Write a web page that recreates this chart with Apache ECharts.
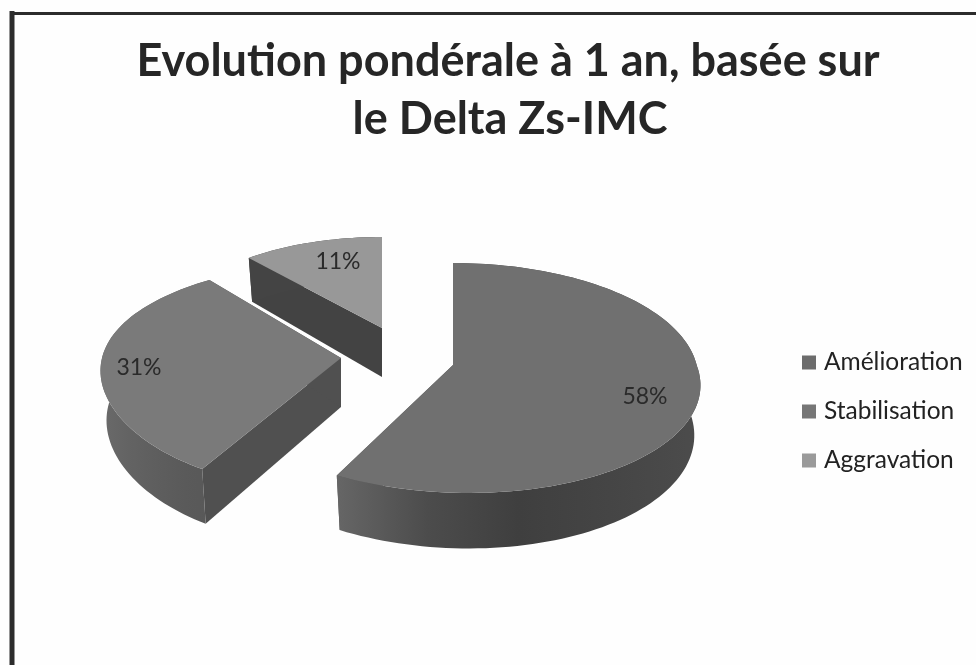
<!DOCTYPE html>
<html><head><meta charset="utf-8">
<style>html,body{margin:0;padding:0;background:#fefefe}#c{width:976px;height:665px}</style>
<script src="https://cdn.jsdelivr.net/npm/echarts@6/dist/echarts.min.js"></script>
</head><body><div id="c"></div>
<script>
const titleLines = ['Evolution pondérale à 1 an, basée sur', 'le Delta Zs-IMC'];
const categories = ['Amélioration', 'Stabilisation', 'Aggravation'];
const percentages = [58, 31, 11];

const topColors = ['#707070', '#7a7a7a', '#989898'];
const legendColors = ['#6c6c6c', '#767676', '#9a9a9a'];
const titleCenters = [503, 505];
const views = [
  {ax:453, ay:365, R:243.6, k:113.5, p:.113, px:.113, sh:0, shF:-16, lx:192, ly:32,
   wall:['#666666','#4c4c4c','#3f3f3f','#454545','#4c4c4c'], cut:'#555555'},
  {ax:341, ay:358, R:239, k:111.8, p:.134, px:0, sh:27, shF:0, lx:-202, ly:10,
   wall:['#6a6a6a','#636363','#5e5e5e','#5a5a5a','#585858'], cut:'#505050'},
  {ax:382, ay:328, R:209, k:91, p:0, px:0, sh:0, shF:0, lx:-44, ly:-66,
   wall:['#444444','#444444','#444444','#444444','#444444'], cut:'#434343'}
];
const H0 = 49, H1 = 6.5, BASE = 0.975;
const total = percentages.reduce((a, b) => a + b, 0);

function topPt(v, t, r) {
  const d = r * Math.cos(t), sn = r * Math.sin(t);
  return [v.ax + v.R * sn / (1 + v.px * d) + v.sh * d + v.shF * Math.min(d, 0),
          v.ay - v.k * d / (1 + v.p * d)];
}
function basePt(v, t, r) {
  const q = topPt(v, t, r), d = r * Math.cos(t);
  return [v.ax + (q[0] - v.ax) * BASE, q[1] + H0 - H1 * d];
}
function arc(fn, v, a, b) {
  const pts = [], n = Math.max(4, Math.ceil(Math.abs(b - a) / 0.03));
  for (let i = 0; i <= n; i++) pts.push(fn(v, a + (b - a) * i / n, 1));
  return pts;
}
function renderSlice(idx) {
  return function (params, api) {
    const val = api.value(0), v = views[idx];
    let before = 0;
    for (let i = 0; i < idx; i++) before += percentages[i];
    const a = before / total * 2 * Math.PI, b = a + val / total * 2 * Math.PI;
    const A = topPt(v, 0, 0), B = basePt(v, 0, 0);
    const ta = arc(topPt, v, a, b), ba = arc(basePt, v, a, b);
    const stops = v.wall.map((c, i) => ({offset: i / (v.wall.length - 1), color: c}));
    const xs = ta.map(p => p[0]).concat(ba.map(p => p[0]));
    const fill = {type: 'linear', global: true, x: Math.min(...xs), y: 0, x2: Math.max(...xs), y2: 0, colorStops: stops};
    const children = [];
    children.push({type: 'polygon', shape: {points: [A, ta[0], ba[0], B]}, style: {fill: v.cut}});
    children.push({type: 'polygon', shape: {points: [A, ta[ta.length - 1], ba[ba.length - 1], B]}, style: {fill: v.cut}});
    children.push({type: 'polygon', shape: {points: ta.concat(ba.slice().reverse())}, style: {fill: fill}});
    children.push({type: 'polygon', shape: {points: [A].concat(ta)}, style: {fill: topColors[idx]}});
    children.push({type: 'text', style: {text: val + '%', x: v.ax + v.lx, y: v.ay + v.ly, align: 'center', verticalAlign: 'middle',
      fill: '#2a2a2a', font: '23px Lato, sans-serif'}});
    return {type: 'group', children};
  };
}
const drawOrder = [2, 1, 0];
const chart = echarts.init(document.getElementById('c'), null, {renderer: 'canvas'});
chart.setOption({
  animation: false,
  backgroundColor: '#fefefe',
  title: titleLines.map((t, i) => ({
    text: t, left: titleCenters[i], textAlign: 'center', top: 34 + i * 58,
    textStyle: {fontFamily: 'Lato, sans-serif', fontWeight: 'bold', fontSize: 45, color: '#262626'}
  })),
  legend: {
    orient: 'vertical', left: 802, top: 350, padding: 0, icon: 'rect', itemWidth: 14, itemHeight: 14, itemGap: 24,
    selectedMode: false, data: categories,
    textStyle: {fontFamily: 'Lato, sans-serif', fontSize: 24.5, color: '#222', padding: [0, 0, 0, 3]}
  },
  series: drawOrder.map(i => ({
    type: 'custom', name: categories[i], coordinateSystem: 'none', clip: false,
    itemStyle: {color: legendColors[i]},
    renderItem: renderSlice(i), data: [[percentages[i]]]
  })),
  graphic: [
    {type: 'line', silent: true, shape: {x1: 12, y1: 11, x2: 12, y2: 665}, style: {stroke: '#2c2c2c', lineWidth: 5}},
    {type: 'line', silent: true, shape: {x1: 10, y1: 13.5, x2: 976, y2: 13.5}, style: {stroke: '#2c2c2c', lineWidth: 3}}
  ]
});
</script></body></html>
